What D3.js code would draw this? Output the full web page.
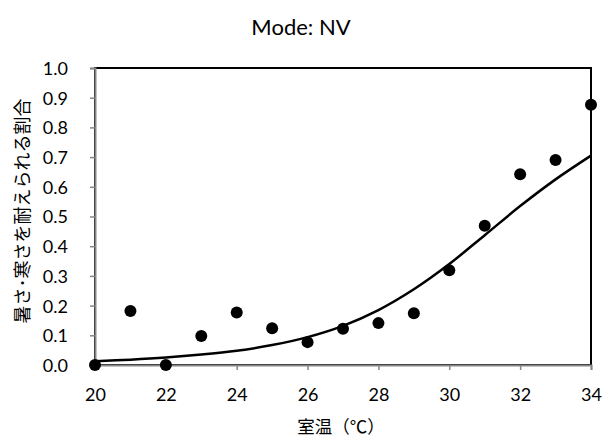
<!DOCTYPE html>
<html lang="ja">
  <head>
    <meta charset="utf-8">
    <title>Mode: NV</title>
    <style>
      body { margin: 0; background: #fff; }
      text { font-family: Lato, "Noto Sans", sans-serif; fill: #000; }
      .jp { font-family: "Noto Sans CJK JP", sans-serif; }
    </style>
  </head>
  <body>
  <script src="https://cdn.jsdelivr.net/npm/d3@7"></script>
  <script>
    // room temperature (x), observed ratio (dots), fitted curve
    var temps = [20, 21, 22, 23, 24, 25, 26, 27, 28, 29, 30, 31, 32, 33, 34];
    var ratios = [0.0, 0.182, 0.0, 0.098, 0.177, 0.124, 0.077, 0.122, 0.141, 0.174, 0.319, 0.469, 0.642, 0.690, 0.876];
    var fitted = [0.013, 0.018, 0.025, 0.035, 0.048, 0.067, 0.094, 0.132, 0.185, 0.255, 0.34, 0.437, 0.535, 0.625, 0.705];
    var xTicks = [20, 22, 24, 26, 28, 30, 32, 34];
    var yTicks = [0, 0.1, 0.2, 0.3, 0.4, 0.5, 0.6, 0.7, 0.8, 0.9, 1.0];

    var W = 604, H = 438;
    var m = {left: 95, right: 13, top: 68, bottom: 73};

    var svg = d3.select("body").append("svg")
      .attr("width", W).attr("height", H);

    var x = d3.scaleLinear().domain([20, 34]).range([m.left, W - m.right]);
    var y = d3.scaleLinear().domain([0, 1]).range([H - m.bottom, m.top]);

    // plot border (top/right show as black)
    svg.append("rect")
      .attr("x", x(20)).attr("y", y(1))
      .attr("width", x(34) - x(20)).attr("height", y(0) - y(1))
      .attr("fill", "none").attr("stroke", "#000").attr("stroke-width", 2);

    // axes
    var yAxis = svg.append("g")
      .attr("transform", "translate(" + x(20) + ",0)")
      .call(d3.axisLeft(y).tickValues(yTicks).tickSize(5).tickPadding(22)
        .tickFormat(d3.format(".1f")));
    var xAxis = svg.append("g")
      .attr("transform", "translate(0," + y(0) + ")")
      .call(d3.axisBottom(x).tickValues(xTicks).tickSize(5).tickPadding(18));

    [yAxis, xAxis].forEach(function(a){
      a.select(".domain").attr("stroke", "#878787").attr("stroke-width", 2);
      a.selectAll(".tick line").attr("stroke", "#878787").attr("stroke-width", 1.5);
      a.selectAll(".tick text").style("font-size", "18px").attr("fill", "#000");
    });
    yAxis.selectAll(".tick text").attr("dy", "0.36em");

    // fitted curve
    var line = d3.line()
      .x(function(d, i){ return x(temps[i]); })
      .y(function(d){ return y(d); })
      .curve(d3.curveCatmullRom);
    svg.append("path")
      .datum(fitted)
      .attr("d", line)
      .attr("fill", "none")
      .attr("stroke", "#000")
      .attr("stroke-width", 2.5);

    // observed points
    svg.append("g").selectAll("circle").data(ratios)
      .enter().append("circle")
      .attr("cx", function(d, i){ return x(temps[i]); })
      .attr("cy", function(d){ return y(d); })
      .attr("r", 6)
      .attr("fill", "#000");

    // title
    svg.append("text")
      .attr("x", 301).attr("y", 35)
      .attr("text-anchor", "middle")
      .style("font-size", "22px")
      .text("Mode: NV");

    // axis titles
    svg.append("text")
      .attr("class", "jp")
      .attr("x", 341).attr("y", 433)
      .attr("text-anchor", "middle")
      .style("font-size", "17.5px")
      .text("室温（℃）");

    svg.append("text")
      .attr("class", "jp")
      .attr("transform", "translate(29,211) rotate(-90)")
      .attr("text-anchor", "middle")
      .style("font-size", "18px")
      .text("暑さ･寒さを耐えられる割合");
  </script>
  </body>
</html>
